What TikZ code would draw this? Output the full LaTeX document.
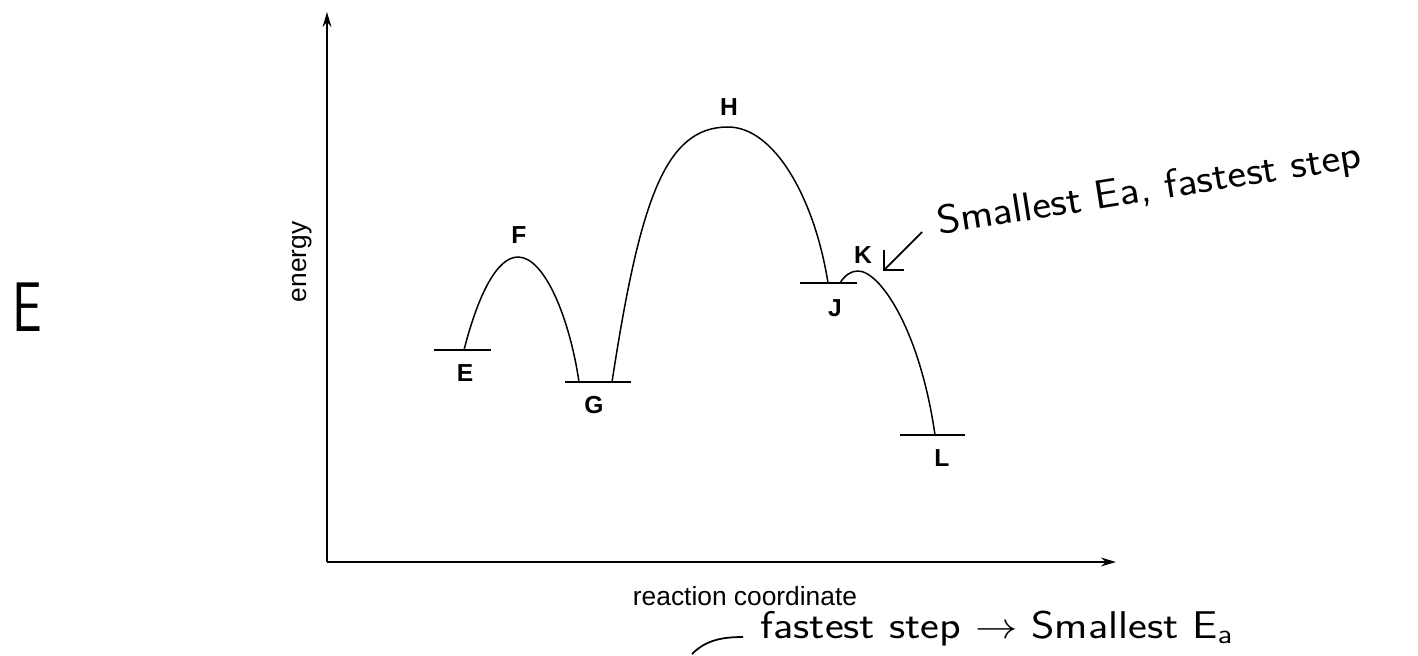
\documentclass[tikz,border=0pt]{standalone}
\usepackage{fontspec}
\usepackage{tikz}
\usetikzlibrary{arrows.meta}
\newfontfamily\plotfont{Liberation Sans}

\begin{document}
\begin{tikzpicture}[
  x=0.02cm, y=-0.02cm,
  axis/.style={line width=1.1pt, -{Stealth[length=8.5pt,width=5pt]}},
  levelline/.style={line width=1.1pt},
  hump/.style={line width=0.85pt},
  pointlabel/.style={font=\plotfont\bfseries\fontsize{14}{16}\selectfont, inner sep=0pt},
  axislabel/.style={font=\plotfont\fontsize{15}{18}\selectfont, inner sep=0pt},
  hand/.style={font=\sffamily\fontsize{22}{26}\selectfont, inner sep=0pt},
  note/.style={line width=1pt, -{Straight Barb[length=8pt,width=16pt]}}
]
  \useasboundingbox (0,0) rectangle (1418,656);

  % axes
  \coordinate (origin) at (327,562);
  \coordinate (ytop) at (327,12);
  \coordinate (xend) at (1116,562);
  \draw[axis] (origin) -- (ytop);
  \draw[axis] (origin) -- (xend);
  \node[axislabel, rotate=90] (energy) at (302,262) {energy};
  \node[axislabel] (rxn) at (745,596) {reaction coordinate};

  % energy levels
  \draw[levelline] (434,350) -- (491,350);
  \draw[levelline] (565,382) -- (631,382);
  \draw[levelline] (800,283) -- (857,283);
  \draw[levelline] (900,435) -- (965,435);

  % reaction profile
  \coordinate (Ebase) at (464,350);
  \coordinate (Fpeak) at (518,257);
  \coordinate (Gleft) at (579,382);
  \coordinate (Gright) at (612,382);
  \coordinate (Hpeak) at (728,127);
  \coordinate (Jleft) at (828,283);
  \coordinate (Jright) at (840,283);
  \coordinate (Kpeak) at (858,271);
  \coordinate (Lbase) at (935,435);
  \draw[hump] (Ebase) .. controls (478,295) and (497,257) .. (Fpeak)
    .. controls (545,257) and (570,320) .. (Gleft);
  \draw[hump] (Gright) .. controls (640,200) and (665,127) .. (Hpeak)
    .. controls (775,127) and (815,200) .. (Jleft);
  \draw[hump] (Jright) .. controls (845,275) and (851,271) .. (Kpeak)
    .. controls (880,271) and (920,330) .. (Lbase);

  % point labels
  \node[pointlabel] (E) at (465,373) {E};
  \node[pointlabel] (F) at (519,235) {F};
  \node[pointlabel] (G) at (594,405) {G};
  \node[pointlabel] (H) at (729,107) {H};
  \node[pointlabel] (J) at (835,308) {J};
  \node[pointlabel] (K) at (863,255) {K};
  \node[pointlabel] (L) at (942,458) {L};

  % handwritten notes
  \node[hand, font=\sffamily\fontsize{40}{44}\selectfont, xscale=0.75] (bigE) at (27,307) {E};
  \node[hand, font=\sffamily\fontsize{23}{27}\selectfont, rotate=9, anchor=base, xscale=1.1] (topnote) at (1151,201) {Smallest Ea, fastest step};
  \coordinate (notetail) at (922,232);
  \coordinate (notetip) at (883,271);
  \draw[note] (notetail) -- (notetip);
  \node[hand, anchor=base, xscale=1.16] (bottomnote) at (997,638) {fastest step $\rightarrow$ Smallest E\textsubscript{a}};
  \draw[line width=1pt] (692,654) .. controls (705,641) and (720,637) .. (743,637);
\end{tikzpicture}
\end{document}
